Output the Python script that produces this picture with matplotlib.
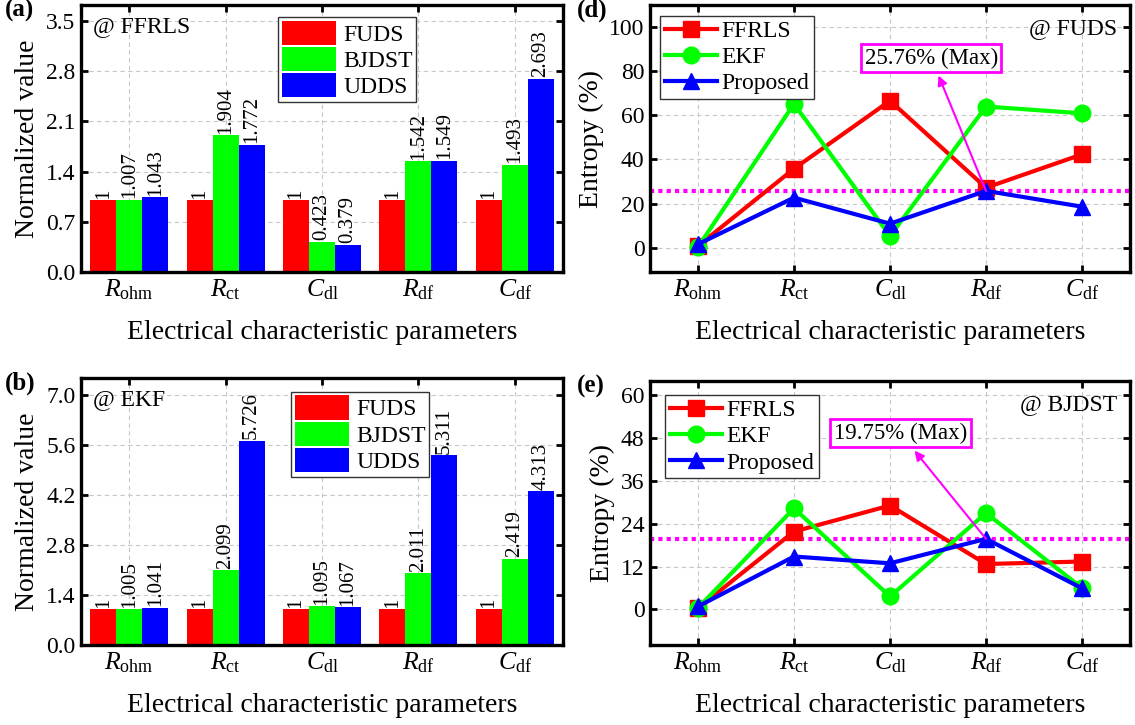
import numpy as np
import matplotlib
matplotlib.use('Agg')
import matplotlib.pyplot as plt
from matplotlib.ticker import FormatStrFormatter

plt.rcParams['font.family'] = ['Liberation Serif', 'DejaVu Serif']
plt.rcParams['mathtext.fontset'] = 'custom'
plt.rcParams['mathtext.rm'] = 'Liberation Serif'
plt.rcParams['mathtext.it'] = 'Liberation Serif:italic'
plt.rcParams['mathtext.bf'] = 'Liberation Serif:bold'

# parameters on the x axis
params = [r'$R_{\mathrm{ohm}}$', r'$R_{\mathrm{ct}}$', r'$C_{\mathrm{dl}}$',
          r'$R_{\mathrm{df}}$', r'$C_{\mathrm{df}}$']
cycles = ['FUDS', 'BJDST', 'UDDS']
methods = ['FFRLS', 'EKF', 'Proposed']

# normalized parameter values, FFRLS identification
ffrls_fuds = [1, 1, 1, 1, 1]
ffrls_bjdst = [1.007, 1.904, 0.423, 1.542, 1.493]
ffrls_udds = [1.043, 1.772, 0.379, 1.549, 2.693]

# normalized parameter values, EKF identification
ekf_fuds = [1, 1, 1, 1, 1]
ekf_bjdst = [1.005, 2.099, 1.095, 2.011, 2.419]
ekf_udds = [1.041, 5.726, 1.067, 5.311, 4.313]

# entropy (%) under FUDS
fuds_ffrls = [0.8, 35.8, 66.6, 27.2, 42.3]
fuds_ekf = [0.3, 65.2, 5.3, 64.0, 60.9]
fuds_prop = [1.6, 22.7, 10.9, 25.76, 18.6]

# entropy (%) under BJDST
bjdst_ffrls = [0.3, 21.8, 29.1, 12.7, 13.4]
bjdst_ekf = [0.4, 28.3, 3.6, 27.0, 6.0]
bjdst_prop = [0.8, 14.8, 12.9, 19.75, 5.9]

bar_colors = ['#ff0000', '#00ff00', '#0000ff']
line_styles = [('#ff0000', 's'), ('#00ff00', 'o'), ('#0000ff', '^')]

W, H = 1135, 725
fig = plt.figure(figsize=(W / 100, H / 100), dpi=100)


def add_ax(x0, y0, x1, y1):
    # pixel box -> figure fraction
    return fig.add_axes([x0 / W, 1 - y1 / H, (x1 - x0) / W, (y1 - y0) / H])


def style_ax(ax, ylabel):
    for sp in ax.spines.values():
        sp.set_linewidth(2.4)
    ax.tick_params(direction='in', length=5, width=2, top=True, right=True,
                   labelsize=17, pad=4)
    ax.grid(True, color='#c8c8c8', ls=(0, (4, 3)), lw=0.8)
    ax.set_axisbelow(True)
    ax.set_xlim(0.5, 5.5)
    ax.set_xticks(np.arange(1, 6))
    ax.set_xticklabels(params, fontsize=18.5)
    ax.set_xlabel('Electrical characteristic parameters', fontsize=20, labelpad=13)
    ax.set_ylabel(ylabel, fontsize=20, labelpad=4)


def bar_panel(ax, series, ymax, yticks, tag, method, leg_xy):
    x = np.arange(1, 6)
    w = 0.27
    for i, (vals, c, name) in enumerate(zip(series, bar_colors, cycles)):
        bars = ax.bar(x + (i - 1) * w, vals, w, color=c, label=name, zorder=2)
        labels = ['%g' % v for v in vals]
        ax.bar_label(bars, labels=labels, rotation=90, fontsize=15, padding=1)
    style_ax(ax, 'Normalized value')
    ax.set_ylim(0, ymax)
    ax.set_yticks(yticks)
    ax.yaxis.set_major_formatter(FormatStrFormatter('%.1f'))
    ax.text(0.025, 0.9, '@ ' + method, transform=ax.transAxes, fontsize=17)
    ax.text(-0.158, 0.955, tag, transform=ax.transAxes, fontsize=18,
            fontweight='bold')
    leg = ax.legend(loc='upper left', bbox_to_anchor=leg_xy, fontsize=17,
                    handlelength=2.3, handleheight=1.2, labelspacing=0.05,
                    handletextpad=0.3, borderpad=0.15, borderaxespad=0,
                    fancybox=False, framealpha=1, edgecolor='#333333')
    leg.get_frame().set_linewidth(1.0)


def line_panel(ax, series, ylim, yticks, tag, cycle, max_val, box_xy, leg_xy):
    x = np.arange(1, 6)
    ax.axhline(max_val, color='#ff00ff', ls=(0, (1, 1)), lw=3, zorder=2)
    for vals, (c, m), name in zip(series, line_styles, methods):
        ax.plot(x, vals, color=c, marker=m, ms=12, lw=3, label=name, zorder=3)
    style_ax(ax, 'Entropy (%)')
    ax.set_ylim(*ylim)
    ax.set_yticks(yticks)
    ax.text(0.973, 0.91, '@ ' + cycle, transform=ax.transAxes, fontsize=17,
            ha='right', va='center')
    ax.text(-0.153, 0.955, tag, transform=ax.transAxes, fontsize=18,
            fontweight='bold')
    ax.annotate('%.2f%% (Max)' % max_val, xy=(4, max_val), xytext=box_xy,
                fontsize=16.5, ha='center', va='center', zorder=5,
                bbox=dict(boxstyle='square,pad=0.15', fc='white', ec='#ff00ff', lw=2),
                arrowprops=dict(arrowstyle='<|-', color='#ff00ff', lw=1.5,
                                mutation_scale=14, shrinkA=2, shrinkB=0))
    leg = ax.legend(loc='upper left', bbox_to_anchor=leg_xy, fontsize=17,
                    handlelength=2.2, labelspacing=0.2, handletextpad=0.2,
                    borderpad=0.2, borderaxespad=0, fancybox=False,
                    framealpha=1, edgecolor='#333333')
    leg.get_frame().set_linewidth(1.0)


ax_a = add_ax(81, 5, 563, 272)
bar_panel(ax_a, [ffrls_fuds, ffrls_bjdst, ffrls_udds], 3.72,
          np.arange(0, 3.6, 0.7), '(a)', 'FFRLS', (0.409, 0.955))

ax_b = add_ax(81, 378, 563, 645)
bar_panel(ax_b, [ekf_fuds, ekf_bjdst, ekf_udds], 7.48,
          np.arange(0, 7.1, 1.4), '(b)', 'EKF', (0.436, 0.948))

ax_d = add_ax(650, 5, 1130, 272)
line_panel(ax_d, [fuds_ffrls, fuds_ekf, fuds_prop], (-11, 110),
           np.arange(0, 101, 20), '(d)', 'FUDS', 25.76, (3.43, 86), (0.021, 0.96))

ax_e = add_ax(650, 381, 1130, 645)
line_panel(ax_e, [bjdst_ffrls, bjdst_ekf, bjdst_prop], (-10, 64),
           np.arange(0, 61, 12), '(e)', 'BJDST', 19.75, (3.11, 49.3), (0.031, 0.947))

fig.savefig('out.png', dpi=100)
